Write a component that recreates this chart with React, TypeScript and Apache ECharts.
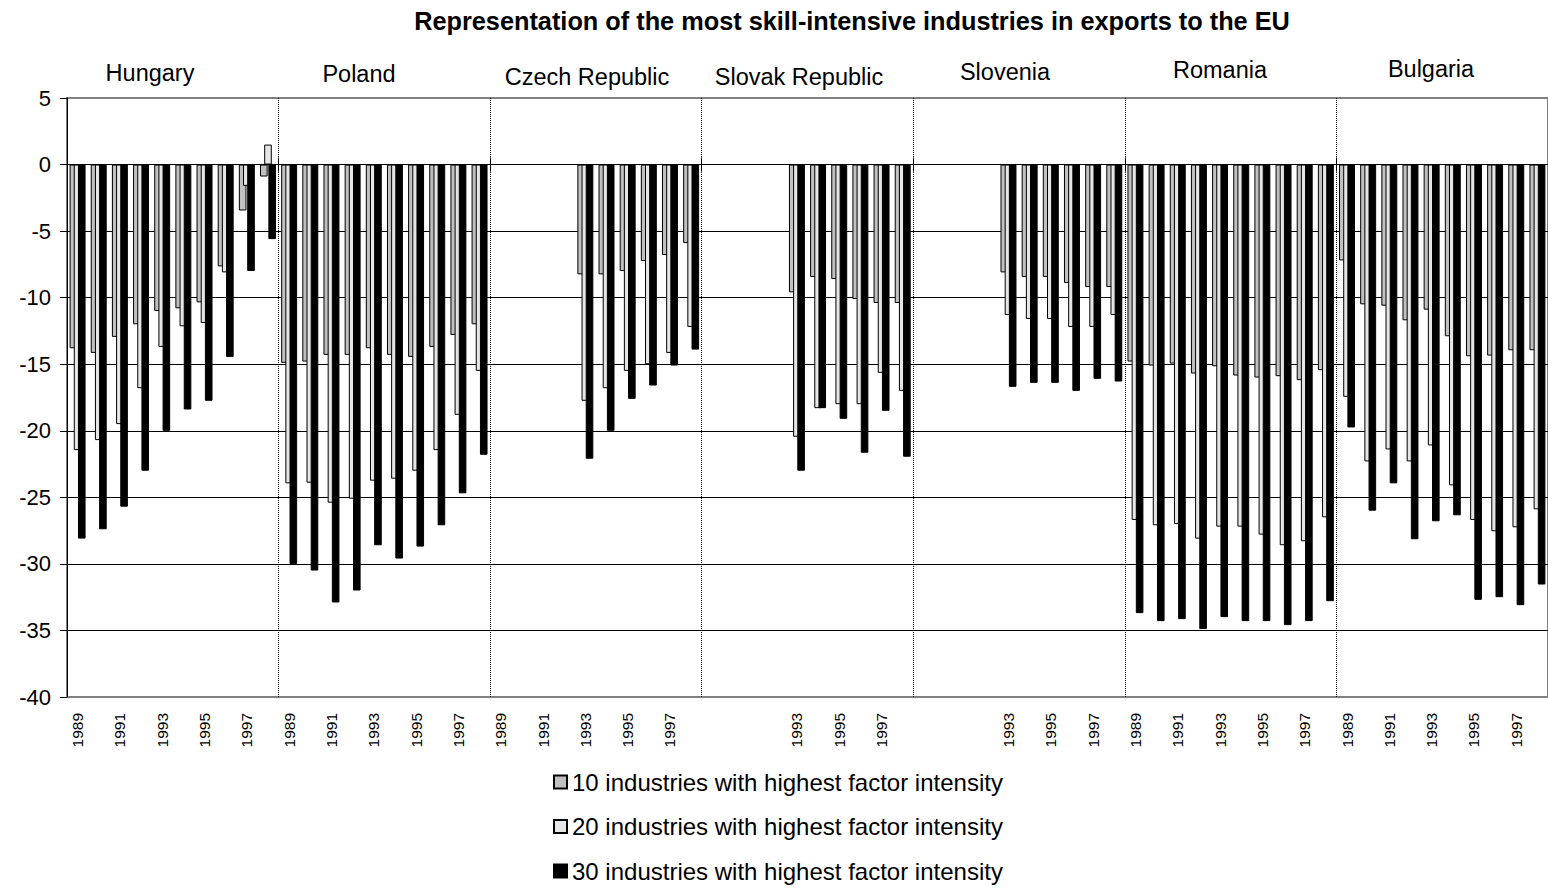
import React, { useEffect, useRef } from 'react';
import * as echarts from 'echarts';

const TITLE = 'Representation of the most skill-intensive industries in exports to the EU';
const YEARS = ['1989', '1990', '1991', '1992', '1993', '1994', '1995', '1996', '1997', '1998'];
const COUNTRIES = ['Hungary', 'Poland', 'Czech Republic', 'Slovak Republic', 'Slovenia', 'Romania', 'Bulgaria'];
// countries whose 1989-1992 tick labels are left blank in the original
const UNLABELLED_EARLY = ['Slovak Republic', 'Slovenia'];
const SERIES_NAMES = [
  '10 industries with highest factor intensity',
  '20 industries with highest factor intensity',
  '30 industries with highest factor intensity',
];
const Y_TICKS = { min: -40, max: 5, interval: 5 };

// values, 1989..1998
const HUNGARY_10 = [-13.8, -14.15, -12.95, -12.0, -11.0, -10.8, -10.35, -7.65, -3.45, -0.9];
const HUNGARY_20 = [-21.45, -20.7, -19.5, -16.8, -13.7, -12.15, -11.9, -8.1, -1.6, 1.5];
const HUNGARY_30 = [-28.1, -27.4, -25.7, -23.0, -20.0, -18.4, -17.75, -14.45, -8.0, -5.6];

const POLAND_10 = [-14.9, -14.8, -14.3, -14.3, -13.8, -14.3, -14.45, -13.7, -12.8, -12.0];
const POLAND_20 = [-23.95, -23.9, -25.4, -25.1, -23.75, -23.6, -23.0, -21.45, -18.8, -15.5];
const POLAND_30 = [-30.0, -30.5, -32.9, -32.0, -28.6, -29.6, -28.7, -27.1, -24.7, -21.8];

const CZECH_10 = [null, null, null, null, -8.25, -8.25, -8.0, -7.25, -6.8, -5.9];
const CZECH_20 = [null, null, null, null, -17.75, -16.8, -15.5, -15.0, -14.15, -12.2];
const CZECH_30 = [null, null, null, null, -22.1, -20.0, -17.6, -16.6, -15.1, -13.9];

const SLOVAK_10 = [null, null, null, null, -9.6, -8.45, -8.6, -10.1, -10.4, -10.4];
const SLOVAK_20 = [null, null, null, null, -20.45, -18.3, -18.0, -18.0, -15.65, -17.0];
const SLOVAK_30 = [null, null, null, null, -23.0, -18.3, -19.1, -21.65, -18.5, -21.95];

const SLOVENIA_10 = [null, null, null, null, -8.1, -8.45, -8.45, -8.9, -9.2, -9.2];
const SLOVENIA_20 = [null, null, null, null, -11.3, -11.6, -11.6, -12.2, -12.2, -11.3];
const SLOVENIA_30 = [null, null, null, null, -16.7, -16.4, -16.4, -17.0, -16.1, -16.3];

const ROMANIA_10 = [-14.8, -15.1, -14.95, -15.7, -15.15, -15.85, -16.0, -15.9, -16.2, -15.45];
const ROMANIA_20 = [-26.7, -27.1, -27.0, -28.1, -27.2, -27.2, -27.8, -28.6, -28.3, -26.5];
const ROMANIA_30 = [-33.7, -34.3, -34.15, -34.9, -34.0, -34.3, -34.3, -34.6, -34.3, -32.8];

const BULGARIA_10 = [-7.2, -10.5, -10.6, -11.7, -10.9, -12.9, -14.4, -14.35, -13.95, -13.95];
const BULGARIA_20 = [-17.45, -22.3, -21.4, -22.3, -21.1, -24.1, -26.7, -27.55, -27.25, -25.9];
const BULGARIA_30 = [-19.75, -26.0, -23.95, -28.15, -26.8, -26.35, -32.7, -32.5, -33.1, -31.55];

const TOP10 = [...HUNGARY_10, ...POLAND_10, ...CZECH_10, ...SLOVAK_10, ...SLOVENIA_10, ...ROMANIA_10, ...BULGARIA_10];
const TOP20 = [...HUNGARY_20, ...POLAND_20, ...CZECH_20, ...SLOVAK_20, ...SLOVENIA_20, ...ROMANIA_20, ...BULGARIA_20];
const TOP30 = [...HUNGARY_30, ...POLAND_30, ...CZECH_30, ...SLOVAK_30, ...SLOVENIA_30, ...ROMANIA_30, ...BULGARIA_30];

const FILLS = ['#c0c0c0', '#e6e6e6', '#000000'];
const FONT = "'Liberation Sans', Arial, Helvetica, sans-serif";
const NARROW = "'Liberation Sans Narrow', 'Arial Narrow', 'Liberation Sans', sans-serif";

// annotation placement of the country headings above the plot
const COUNTRY_LABEL_POS = [
  [150, 73], [359, 74], [587, 77], [799, 77], [1005, 72], [1220, 70], [1431, 69],
];

export default function App() {
  const ref = useRef<HTMLDivElement>(null);

  useEffect(() => {
    if (!ref.current) return;
    const chart = echarts.init(ref.current, null, { renderer: 'svg' });

    const categories = COUNTRIES.flatMap((c) => YEARS.map((y) => `${c}|${y}`));
    const fmt = (v: string) => {
      const [c, y] = v.split('|');
      return UNLABELLED_EARLY.includes(c) && +y < 1993 ? '' : y;
    };
    const boundary = (i: number) => i % YEARS.length === 0;

    const gridLineColors: string[] = [];
    for (let v = Y_TICKS.min; v <= Y_TICKS.max; v += Y_TICKS.interval) {
      gridLineColors.push(v === Y_TICKS.min || v === Y_TICKS.max ? '#808080' : '#000000');
    }

    const seriesData = [TOP10, TOP20, TOP30];

    chart.setOption({
      animation: false,
      textStyle: { fontFamily: FONT },
      grid: {
        left: 67,
        top: 98,
        width: 1484,
        height: 599,
        show: true,
        borderColor: '#808080',
        borderWidth: 2,
        containLabel: false,
      },
      legend: {
        orient: 'vertical',
        left: 553,
        top: 770,
        padding: 0,
        itemWidth: 13,
        itemHeight: 13,
        itemGap: 20.5,
        icon: 'rect',
        textStyle: { fontSize: 24, color: '#000', fontFamily: FONT },
        data: SERIES_NAMES,
      },
      xAxis: [
        {
          type: 'category',
          data: categories,
          position: 'bottom',
          axisLine: { show: false, onZero: false },
          axisTick: { show: false },
          axisLabel: {
            rotate: 90,
            interval: 1,
            fontSize: 15.5,
            fontFamily: NARROW,
            color: '#000',
            margin: 16,
            formatter: fmt,
          },
          splitLine: {
            show: true,
            interval: (i: number) => boundary(i) && i > 0,
            lineStyle: { color: '#000', type: 'dotted', width: 1 },
          },
        },
        {
          type: 'category',
          data: categories,
          position: 'bottom',
          axisLine: { show: true, onZero: true, onZeroAxisIndex: 0, lineStyle: { color: '#000', width: 1 } },
          axisTick: { show: true, length: 7, interval: (i: number) => boundary(i) && i > 0, lineStyle: { color: '#000' } },
          axisLabel: { show: false },
          splitLine: { show: false },
        },
        {
          type: 'category',
          data: categories,
          position: 'bottom',
          axisLine: { show: false, onZero: true, onZeroAxisIndex: 1 },
          axisTick: { show: true, inside: true, length: 7, interval: (i: number) => boundary(i) && i > 0, lineStyle: { color: '#000' } },
          axisLabel: { show: false },
          splitLine: { show: false },
        },
      ],
      yAxis: [
        {
          type: 'value',
          min: Y_TICKS.min,
          max: Y_TICKS.max,
          interval: Y_TICKS.interval,
          axisLine: { show: true, lineStyle: { color: '#000', width: 1 } },
          axisTick: { show: true, length: 7, lineStyle: { color: '#000' } },
          axisLabel: { fontSize: 22, color: '#000', margin: 16, fontFamily: FONT },
          splitLine: { show: true, lineStyle: { color: gridLineColors, width: 1 } },
        },
        {
          type: 'value',
          min: Y_TICKS.min,
          max: Y_TICKS.max,
          interval: Y_TICKS.interval,
          show: false,
          splitLine: { show: false },
        },
      ],
      series: SERIES_NAMES.map((name, k) => ({
        name,
        type: 'bar',
        xAxisIndex: 0,
        yAxisIndex: 0,
        data: seriesData[k],
        barWidth: 7.6,
        barGap: '-45%',
        itemStyle: { color: FILLS[k], borderColor: '#000', borderWidth: 1 },
      })),
      graphic: [
        {
          type: 'text',
          x: 852,
          y: 21,
          style: {
            text: TITLE,
            fontSize: 25.3,
            fontWeight: 'bold',
            fontFamily: FONT,
            fill: '#000',
            align: 'center',
            verticalAlign: 'middle',
          },
        },
        ...COUNTRIES.map((c, i) => ({
          type: 'text',
          x: COUNTRY_LABEL_POS[i][0],
          y: COUNTRY_LABEL_POS[i][1],
          style: {
            text: c,
            fontSize: 23.5,
            fontFamily: FONT,
            fill: '#000',
            align: 'center',
            verticalAlign: 'middle',
          },
        })),
      ],
    });

    return () => chart.dispose();
  }, []);

  return (
    <div
      ref={ref}
      style={{ position: 'absolute', left: 0, top: 0, width: 1548, height: 889 }}
    />
  );
}
